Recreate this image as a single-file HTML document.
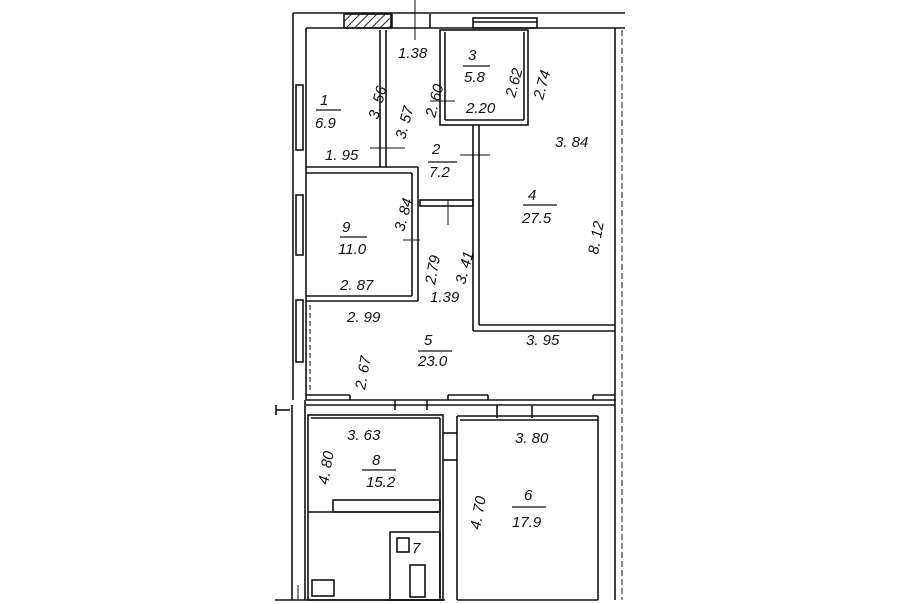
<!DOCTYPE html>
<html><head><meta charset="utf-8"><style>
html,body{margin:0;padding:0;background:#fff;}
svg{display:block}
text{font-family:"Liberation Sans",sans-serif;font-style:italic;font-size:15px;fill:#111}
</style></head><body>
<svg width="900" height="604" viewBox="0 0 900 604" xmlns="http://www.w3.org/2000/svg">
<defs><pattern id="h" width="6" height="6" patternUnits="userSpaceOnUse" patternTransform="rotate(45)"><line x1="0" y1="0" x2="0" y2="6" stroke="#222" stroke-width="2"/></pattern></defs>
<g stroke="#111" stroke-width="1.6" fill="none">
<!-- outer top -->
<line x1="293" y1="13" x2="625" y2="13"/>
<line x1="306" y1="28" x2="625" y2="28"/>
<rect x="344" y="14" width="47" height="14" fill="url(#h)"/>
<line x1="392" y1="14" x2="392" y2="28"/>
<line x1="430" y1="14" x2="430" y2="28"/>
<rect x="473" y="18" width="64" height="10"/>
<line x1="473" y1="22" x2="537" y2="22"/>
<line x1="415" y1="0" x2="415" y2="40" stroke-width="1"/>
<!-- left walls -->
<line x1="293" y1="13" x2="293" y2="400"/>
<line x1="306" y1="28" x2="306" y2="400"/>
<rect x="296" y="85" width="7" height="65"/>
<rect x="296" y="195" width="7" height="60"/>
<rect x="296" y="300" width="7" height="62"/>
<line x1="292" y1="405" x2="292" y2="600"/>
<line x1="305" y1="400" x2="305" y2="600"/>
<!-- right walls -->
<line x1="615" y1="28" x2="615" y2="600"/>
<line x1="622" y1="30" x2="622" y2="600" stroke-width="1" stroke-dasharray="6 3"/>
<!-- room1/2 wall -->
<line x1="380" y1="30" x2="380" y2="167"/>
<line x1="386" y1="30" x2="386" y2="167"/>
<!-- room 3 -->
<rect x="440" y="30" width="88" height="95"/>
<line x1="445" y1="32" x2="445" y2="120"/>
<line x1="445" y1="120" x2="524" y2="120"/>
<line x1="524" y1="32" x2="524" y2="120"/>
<!-- wall 2/4 -->
<line x1="473" y1="125" x2="473" y2="205"/>
<line x1="479" y1="125" x2="479" y2="325"/>
<!-- room 9 -->
<line x1="306" y1="167" x2="418" y2="167"/>
<line x1="306" y1="173" x2="412" y2="173"/>
<line x1="418" y1="167" x2="418" y2="301"/>
<line x1="412" y1="173" x2="412" y2="296"/>
<line x1="306" y1="296" x2="412" y2="296"/>
<line x1="306" y1="301" x2="418" y2="301"/>
<rect x="420" y="200" width="53" height="6"/>
<!-- room 4 bottom -->
<line x1="473" y1="205" x2="473" y2="331"/>
<line x1="473" y1="331" x2="615" y2="331"/>
<line x1="479" y1="325" x2="615" y2="325"/>
<!-- room 5 bottom -->
<line x1="310" y1="305" x2="310" y2="392" stroke-dasharray="5 3" stroke-width="1"/>
<line x1="306" y1="400" x2="615" y2="400"/>
<line x1="306" y1="395" x2="350" y2="395"/>
<line x1="350" y1="395" x2="350" y2="400"/>
<line x1="448" y1="395" x2="488" y2="395"/>
<line x1="448" y1="395" x2="448" y2="400"/>
<line x1="488" y1="395" x2="488" y2="400"/>
<line x1="593" y1="395" x2="615" y2="395"/>
<line x1="593" y1="395" x2="593" y2="400"/>
<line x1="306" y1="405" x2="615" y2="405"/>
<line x1="395" y1="400" x2="395" y2="410"/>
<line x1="427" y1="400" x2="427" y2="410"/>
<line x1="497" y1="405" x2="497" y2="418"/>
<line x1="532" y1="405" x2="532" y2="418"/>
<!-- room 8 -->
<rect x="308" y="415" width="135" height="185"/>
<line x1="311" y1="418" x2="440" y2="418"/>
<line x1="440" y1="418" x2="440" y2="597"/>
<line x1="308" y1="512" x2="440" y2="512"/>
<rect x="333" y="500" width="107" height="12"/>
<rect x="390" y="532" width="50" height="68"/>
<rect x="397" y="538" width="12" height="14"/>
<rect x="410" y="565" width="15" height="32"/>
<rect x="312" y="580" width="22" height="16"/>
<line x1="298" y1="585" x2="298" y2="600" stroke-width="1"/>
<line x1="275" y1="600" x2="445" y2="600"/>
<line x1="276" y1="405" x2="276" y2="415"/>
<line x1="276" y1="410" x2="290" y2="410"/>
<!-- corridor & room 6 -->
<line x1="443" y1="433" x2="457" y2="433"/>
<line x1="443" y1="460" x2="457" y2="460"/>
<line x1="457" y1="416" x2="457" y2="600"/>
<line x1="457" y1="416" x2="598" y2="416"/>
<line x1="460" y1="420" x2="598" y2="420"/>
<line x1="598" y1="416" x2="598" y2="600"/>
<line x1="457" y1="600" x2="598" y2="600"/>
<!-- dimension ticks -->
<line x1="370" y1="148" x2="405" y2="148" stroke-width="1"/>
<line x1="460" y1="155" x2="490" y2="155" stroke-width="1"/>
<line x1="430" y1="101" x2="455" y2="101" stroke-width="1"/>
<line x1="448" y1="200" x2="448" y2="225" stroke-width="1"/>
<line x1="403" y1="240" x2="420" y2="240" stroke-width="1"/>
<!-- fraction bars -->
<line x1="316" y1="110" x2="341" y2="110" stroke-width="1.2"/>
<line x1="463" y1="66" x2="490" y2="66" stroke-width="1.2"/>
<line x1="428" y1="162" x2="457" y2="162" stroke-width="1.2"/>
<line x1="523" y1="205" x2="557" y2="205" stroke-width="1.2"/>
<line x1="340" y1="237" x2="367" y2="237" stroke-width="1.2"/>
<line x1="418" y1="351" x2="452" y2="351" stroke-width="1.2"/>
<line x1="362" y1="470" x2="396" y2="470" stroke-width="1.2"/>
<line x1="512" y1="507" x2="546" y2="507" stroke-width="1.2"/>
</g>
<text x="320" y="105">1</text><text x="315" y="128">6.9</text>
<text x="325" y="160">1. 95</text>
<text x="398" y="58">1.38</text>
<text x="468" y="60">3</text><text x="464" y="82">5.8</text>
<text x="466" y="113">2.20</text>
<text x="432" y="154">2</text><text x="429" y="177">7.2</text>
<text x="555" y="147">3. 84</text>
<text x="528" y="200">4</text><text x="522" y="223">27.5</text>
<text x="342" y="232">9</text><text x="338" y="254">11.0</text>
<text x="340" y="290">2. 87</text>
<text x="430" y="302">1.39</text>
<text x="347" y="322">2. 99</text>
<text x="526" y="345">3. 95</text>
<text x="424" y="345">5</text><text x="418" y="366">23.0</text>
<text x="347" y="440">3. 63</text>
<text x="372" y="465">8</text><text x="366" y="487">15.2</text>
<text x="515" y="443">3. 80</text>
<text x="524" y="500">6</text><text x="512" y="527">17.9</text>
<text x="412" y="553">7</text>
<g font-size="15">
<text transform="translate(378,120) rotate(-75)">3. 56</text>
<text transform="translate(405,140) rotate(-75)">3. 57</text>
<text transform="translate(435,118) rotate(-75)">2. 60</text>
<text transform="translate(515,98) rotate(-75)">2.62</text>
<text transform="translate(543,100) rotate(-75)">2.74</text>
<text transform="translate(598,255) rotate(-80)">8. 12</text>
<text transform="translate(404,232) rotate(-75)">3. 84</text>
<text transform="translate(435,285) rotate(-80)">2.79</text>
<text transform="translate(465,285) rotate(-75)">3. 41</text>
<text transform="translate(365,390) rotate(-80)">2. 67</text>
<text transform="translate(328,485) rotate(-80)">4. 80</text>
<text transform="translate(480,530) rotate(-80)">4. 70</text>
</g>
</svg>
</body></html>
